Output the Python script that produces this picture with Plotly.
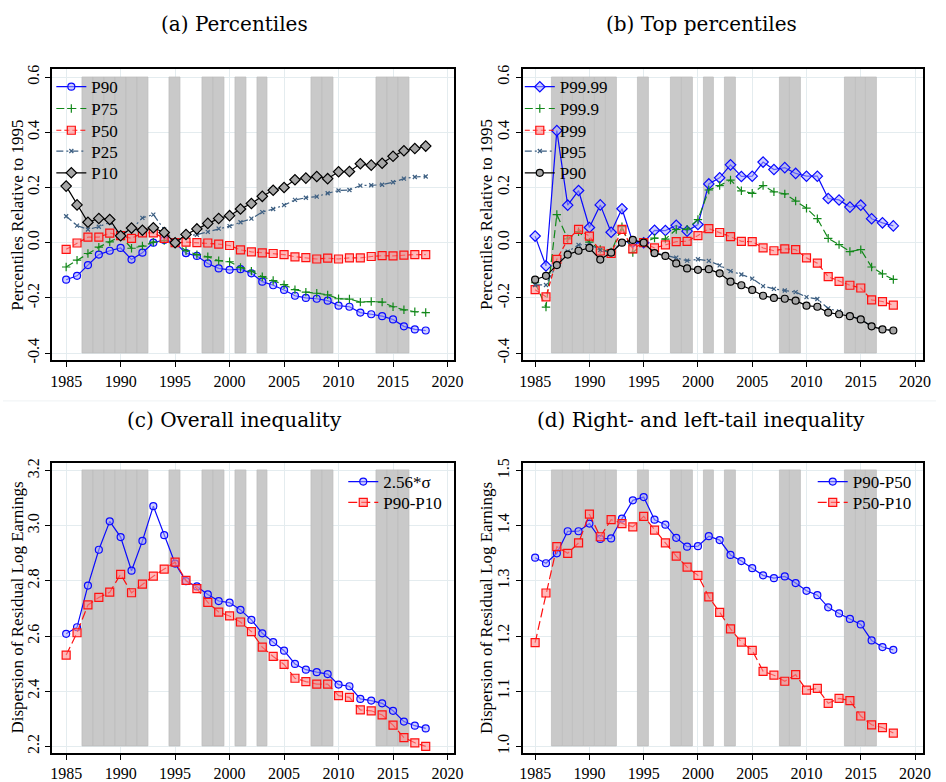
import plotly.graph_objects as go

# ---------------- data ----------------
YEARS = list(range(1985, 2019))
SHADE_YEARS = [1987, 1988, 1989, 1990, 1991, 1992, 1995, 1998, 1999, 2001, 2003,
               2008, 2009, 2014, 2015, 2016]

# (a) Percentiles relative to 1995
P90 = [-0.134, -0.120, -0.081, -0.043, -0.029, -0.019, -0.061, -0.036, 0.000, 0.010,
       0.000, -0.038, -0.048, -0.075, -0.093, -0.098, -0.096, -0.111, -0.141, -0.154,
       -0.171, -0.192, -0.200, -0.203, -0.210, -0.228, -0.232, -0.253, -0.259, -0.266,
       -0.278, -0.303, -0.314, -0.318]
P75 = [-0.088, -0.063, -0.039, -0.016, 0.003, 0.024, -0.020, -0.012, 0.002, 0.008,
       0.000, -0.029, -0.043, -0.051, -0.065, -0.069, -0.090, -0.103, -0.123, -0.137,
       -0.152, -0.170, -0.179, -0.183, -0.189, -0.203, -0.204, -0.215, -0.213, -0.215,
       -0.232, -0.243, -0.250, -0.253]
P50 = [-0.024, -0.001, 0.020, 0.020, 0.035, 0.026, 0.016, 0.036, 0.036, 0.016,
       0.000, 0.002, 0.000, -0.001, -0.005, -0.010, -0.026, -0.033, -0.037, -0.039,
       -0.043, -0.051, -0.054, -0.059, -0.056, -0.059, -0.055, -0.055, -0.050, -0.047,
       -0.048, -0.045, -0.043, -0.043]
P25 = [0.096, 0.062, 0.048, 0.058, 0.074, 0.030, 0.048, 0.090, 0.102, 0.048,
       0.000, 0.024, 0.029, 0.039, 0.051, 0.060, 0.074, 0.087, 0.111, 0.122,
       0.136, 0.155, 0.163, 0.167, 0.179, 0.189, 0.191, 0.207, 0.208, 0.210,
       0.219, 0.232, 0.238, 0.240]
P10 = [0.205, 0.137, 0.074, 0.088, 0.084, 0.025, 0.053, 0.045, 0.054, 0.037,
       0.000, 0.030, 0.050, 0.070, 0.088, 0.098, 0.122, 0.142, 0.168, 0.190,
       0.200, 0.228, 0.234, 0.240, 0.232, 0.257, 0.258, 0.286, 0.281, 0.288,
       0.313, 0.333, 0.341, 0.350]

# (b) Top percentiles relative to 1995
P9999 = [0.024, -0.084, 0.406, 0.136, 0.189, 0.055, 0.137, 0.038, 0.123, 0.002,
         0.000, 0.045, 0.044, 0.063, 0.042, 0.066, 0.213, 0.235, 0.282, 0.240,
         0.241, 0.292, 0.265, 0.272, 0.251, 0.241, 0.241, 0.160, 0.155, 0.129,
         0.136, 0.087, 0.072, 0.061]
P999 = [-0.145, -0.233, 0.102, 0.014, 0.040, 0.002, -0.024, -0.033, 0.058, -0.036,
        0.000, 0.017, 0.013, 0.048, 0.049, 0.084, 0.191, 0.207, 0.227, 0.188,
        0.179, 0.207, 0.184, 0.177, 0.151, 0.125, 0.087, 0.016, -0.007, -0.032,
        -0.025, -0.088, -0.113, -0.133]
P99 = [-0.170, -0.196, -0.060, 0.011, 0.048, 0.024, -0.030, -0.039, 0.048, -0.022,
       0.000, -0.019, -0.008, 0.004, 0.005, 0.026, 0.051, 0.037, 0.022, 0.005,
       0.004, -0.019, -0.029, -0.022, -0.025, -0.055, -0.074, -0.123, -0.140, -0.154,
       -0.164, -0.207, -0.213, -0.226]
P95 = [-0.153, -0.153, -0.078, -0.032, -0.008, -0.006, -0.026, -0.036, 0.004, 0.006,
       0.000, -0.036, -0.045, -0.054, -0.065, -0.060, -0.066, -0.082, -0.103, -0.115,
       -0.130, -0.157, -0.167, -0.173, -0.179, -0.197, -0.204, -0.238, -0.249, -0.265,
       -0.277, -0.303, -0.314, -0.318]

# (c) Overall inequality
SIGMA256 = [2.608, 2.632, 2.783, 2.913, 3.016, 2.959, 2.837, 2.945, 3.071, 2.966,
            2.863, 2.799, 2.780, 2.751, 2.727, 2.721, 2.695, 2.659, 2.610, 2.578,
            2.547, 2.499, 2.478, 2.469, 2.462, 2.424, 2.418, 2.372, 2.366, 2.356,
            2.329, 2.290, 2.275, 2.265]
P90_P10 = [2.531, 2.612, 2.713, 2.740, 2.759, 2.824, 2.757, 2.788, 2.817, 2.843,
           2.868, 2.802, 2.772, 2.722, 2.687, 2.673, 2.651, 2.616, 2.560, 2.526,
           2.497, 2.447, 2.435, 2.426, 2.426, 2.384, 2.378, 2.332, 2.329, 2.314,
           2.277, 2.232, 2.213, 2.200]

# (d) Right- and left-tail inequality
P90_P50 = [1.342, 1.332, 1.350, 1.390, 1.390, 1.404, 1.376, 1.377, 1.413, 1.446,
           1.452, 1.411, 1.402, 1.378, 1.362, 1.363, 1.381, 1.374, 1.347, 1.336,
           1.323, 1.310, 1.305, 1.308, 1.296, 1.282, 1.274, 1.252, 1.241, 1.231,
           1.221, 1.192, 1.180, 1.175]
P50_P10 = [1.188, 1.278, 1.362, 1.350, 1.369, 1.421, 1.380, 1.411, 1.404, 1.398,
           1.417, 1.392, 1.369, 1.345, 1.325, 1.310, 1.271, 1.243, 1.213, 1.189,
           1.174, 1.136, 1.129, 1.118, 1.130, 1.102, 1.105, 1.078, 1.087, 1.083,
           1.055, 1.039, 1.034, 1.024]

X_TICKS = [1985, 1990, 1995, 2000, 2005, 2010, 2015, 2020]
Y_TICKS_TOP = [-0.4, -0.2, 0.0, 0.2, 0.4, 0.6]
Y_TICKS_C = [2.2, 2.4, 2.6, 2.8, 3.0, 3.2]
Y_TICKS_D = [1.0, 1.1, 1.2, 1.3, 1.4, 1.5]

TITLES = ["(a) Percentiles", "(b) Top percentiles", "(c) Overall inequality",
          "(d) Right- and left-tail inequality"]
YTITLE_TOP = "Percentiles Relative to 1995"
YTITLE_BOT = "Dispersion of Residual Log Earnings"

# ---------------- styling / layout ----------------
W, H = 946, 782
SERIF = "Liberation Serif, Times New Roman, Times, serif"
TITLE_FONT = "DejaVu Serif, serif"
BLUE = "#0a0aff"
GREEN = "#12881a"
RED = "#ff1010"
SLATE = "#3d5f82"
BLACK = "#000000"
SHADE = "#c9c9c9"
GRID = "#e4ecef"
LBLUE = "rgba(170,170,255,0.55)"
LRED = "rgba(255,140,140,0.6)"
GRAYF = "#a6a6a6"


def dom_x(l, r):
    return [l / W, r / W]


def dom_y(t, b):
    return [1 - b / H, 1 - t / H]


panels = [
    ("", (50, 457), (65, 359), (1983.73, 2020.57), (-0.426, 0.628), Y_TICKS_TOP),
    ("2", (527, 933), (65, 359), (1983.86, 2020.75), (-0.426, 0.628), Y_TICKS_TOP),
    ("3", (50, 457), (463, 756), (1983.73, 2020.57), (2.175, 3.2266), Y_TICKS_C),
    ("4", (527, 933), (463, 756), (1983.86, 2020.75), (0.9874, 1.5133), Y_TICKS_D),
]

fig = go.Figure()

# shaded year bars
for name, _, _, _, yr, yt in panels:
    lo, hi = yt[0], yt[-1]
    fig.add_trace(go.Bar(
        x=SHADE_YEARS, y=[hi - lo] * len(SHADE_YEARS), base=lo, width=1,
        marker=dict(color=SHADE, line=dict(color="#bcbcbc", width=0.7)),
        xaxis="x" + name, yaxis="y" + name, showlegend=False, hoverinfo="skip"))

# series: (values, label, color, dash, symbol, size, fill, marker-line, axis,
#          legend text-start x px, legend centre y px)
series = [
    (P90, "P90", BLUE, "solid", "circle", 7, LBLUE, BLUE, "", 92, 83),
    (P75, "P75", GREEN, "8px,4px", "cross-thin", 6, GREEN, GREEN, "", 92, 105),
    (P50, "P50", RED, "5px,3px", "square", 8, LRED, RED, "", 92, 127),
    (P25, "P25", SLATE, "7px,3px,2px,3px", "x-thin", 4, SLATE, SLATE, "", 92, 148),
    (P10, "P10", BLACK, "solid", "diamond", 8, GRAYF, BLACK, "", 92, 170),
    (P9999, "P99.99", BLUE, "solid", "diamond", 8, LBLUE, BLUE, "2", 567, 83),
    (P999, "P99.9", GREEN, "8px,4px", "cross-thin", 6, GREEN, GREEN, "2", 567, 105),
    (P99, "P99", RED, "5px,3px", "square", 8, LRED, RED, "2", 567, 127),
    (P95, "P95", SLATE, "7px,3px,2px,3px", "x-thin", 4, SLATE, SLATE, "2", 567, 148),
    (P90, "P90", BLACK, "solid", "circle", 7, GRAYF, BLACK, "2", 567, 170),
    (SIGMA256, "2.56*σ", BLUE, "solid", "circle", 7, LBLUE, BLUE, "3", 388, 482),
    (P90_P10, "P90-P10", RED, "9px,4px", "square", 8, LRED, RED, "3", 388, 503),
    (P90_P50, "P90-P50", BLUE, "solid", "circle", 7, LBLUE, BLUE, "4", 864, 482),
    (P50_P10, "P50-P10", RED, "9px,4px", "square", 8, LRED, RED, "4", 864, 503),
]

layout = dict(
    width=W, height=H, margin=dict(l=0, r=0, t=0, b=0),
    paper_bgcolor="white", plot_bgcolor="white",
    font=dict(family=SERIF, size=16, color="black"),
    bargap=0, barmode="overlay",
)

for i, (vals, label, color, dash, sym, size, fill, mline, ax, lx, ly) in enumerate(series):
    lname = "legend" if i == 0 else f"legend{i + 1}"
    fig.add_trace(go.Scatter(
        x=YEARS, y=vals, name=label, mode="lines+markers",
        line=dict(color=color, width=1.2, dash=dash),
        marker=dict(symbol=sym, size=size, color=fill, line=dict(color=mline, width=1.2)),
        xaxis="x" + ax, yaxis="y" + ax, legend=lname))
    layout[lname] = dict(x=(lx - 43) / W, y=1 - ly / H, xanchor="left", yanchor="middle",
                         bgcolor="rgba(0,0,0,0)", borderwidth=0,
                         font=dict(family=SERIF, size=17, color="black"),
                         itemwidth=30)

for name, xd, yd, xr, yr, yt in panels:
    common = dict(ticks="outside", ticklen=5, tickwidth=1.3, tickcolor="black",
                  showline=True, linecolor="black", linewidth=2, mirror=True,
                  showgrid=True, gridcolor=GRID, gridwidth=1, zeroline=False,
                  tickfont=dict(family=SERIF, size=16, color="black"))
    layout["xaxis" + name] = dict(domain=dom_x(*xd), range=list(xr), anchor="y" + name,
                                  tickvals=X_TICKS, ticktext=[str(v) for v in X_TICKS],
                                  **common)
    layout["yaxis" + name] = dict(domain=dom_y(*yd), range=list(yr), anchor="x" + name,
                                  tickvals=yt, ticktext=[f"{v:.1f}" for v in yt],
                                  tickangle=-90, **common)

annotations = []
title_pos = [(235, 19), (708, 19), (235, 419), (708, 419)]
for t, (cx, cy) in zip(TITLES, title_pos):
    annotations.append(dict(text=t, x=cx / W, y=1 - cy / H, xref="paper", yref="paper",
                            xanchor="center", yanchor="middle", showarrow=False,
                            font=dict(family=TITLE_FONT, size=20, color="black")))
ytitle_pos = [(YTITLE_TOP, 15, 212), (YTITLE_TOP, 491, 212),
              (YTITLE_BOT, 15, 609), (YTITLE_BOT, 491, 609)]
for t, cx, cy in ytitle_pos:
    annotations.append(dict(text=t, x=cx / W, y=1 - cy / H, xref="paper", yref="paper",
                            xanchor="center", yanchor="middle", showarrow=False,
                            textangle=-90, font=dict(family=SERIF, size=17, color="black")))
layout["annotations"] = annotations
layout["shapes"] = [dict(type="line", xref="paper", yref="paper", x0=0, x1=1,
                         y0=1 - 400 / H, y1=1 - 400 / H,
                         line=dict(color="#eef2f4", width=1))]

fig.update_layout(**layout)
fig.write_html("out.html", config={"displayModeBar": False},
               post_script="document.body.style.margin='0px';document.body.style.overflow='hidden';")
